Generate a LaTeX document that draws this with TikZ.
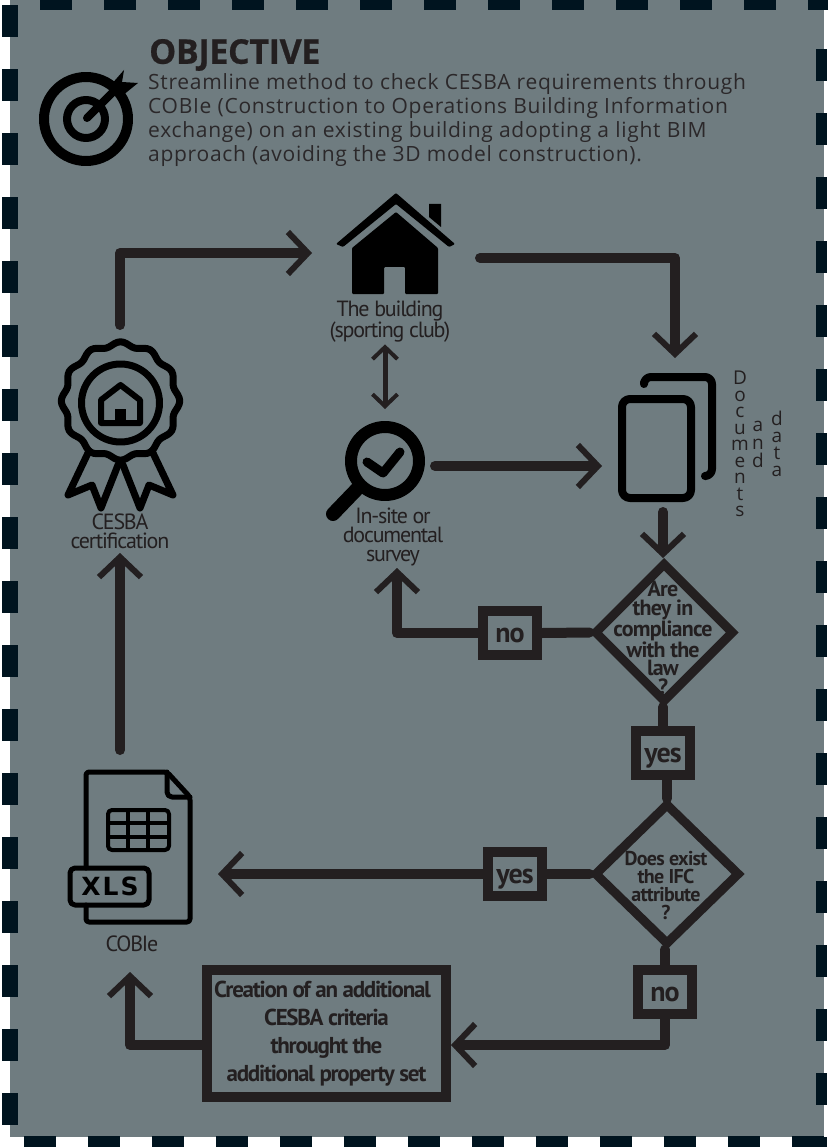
\documentclass[tikz,border=0pt]{standalone}
\usepackage{fontspec}
\usetikzlibrary{arrows.meta,shapes.geometric}
\setmainfont{Open Sans}
\newfontfamily\tightfont[LetterSpace=-3.5]{PT Sans}
\newfontfamily\tighterfont[LetterSpace=-5.5]{PT Sans}
\newfontfamily\widefont[LetterSpace=3.4]{Open Sans}
\newfontfamily\titlefont[LetterSpace=-1,BoldFeatures={FakeBold=0.6}]{Open Sans}
\newfontfamily\tagfont[LetterSpace=8]{DejaVu Sans}
\definecolor{panelgray}{HTML}{6F7C80}
\definecolor{inkdark}{HTML}{231F20}
\definecolor{dashnavy}{HTML}{00141F}
\tikzset{
  flow/.style={draw=inkdark,line width=10pt,line cap=round,line join=round},
  thinflow/.style={draw=inkdark,line width=5pt,line cap=round},
  spot/.style={inner sep=0pt,outer sep=0pt},
  icon/.style={draw=black,line join=round,line cap=round},
  caption/.style={text=inkdark,align=center,inner sep=0pt,outer sep=0pt,font=\tighterfont\fontsize{22}{18.8}\selectfont},
  answer/.style={draw=inkdark,line width=10pt,minimum width=54pt,minimum height=44pt,inner sep=0pt,text=inkdark,text height=18pt,text depth=0pt,font=\tightfont\bfseries\fontsize{28}{28}\selectfont},
  decision/.style={diamond,aspect=1,draw=inkdark,line width=9pt,inner sep=0pt},
  question/.style={text=inkdark,align=center,inner sep=0pt},
  stacked/.style={text=inkdark,align=center,inner sep=0pt},
}
\begin{document}
\begin{tikzpicture}[x=1pt,y=-1pt,>={Straight Barb[length=20pt,width=42pt,line width=6pt]}]
\useasboundingbox (0,0) rectangle (827,1147);
\fill[panelgray] (10,0) rectangle (824,1137);
\foreach \k in {0,...,17} {
  \fill[dashnavy] (2,5+64*\k) rectangle (18,37+64*\k);
  \fill[dashnavy] (816,49+64*\k) rectangle (827,81+64*\k);
}
\foreach \k in {0,...,12} {
  \fill[dashnavy] (40+64*\k,0) rectangle (72+64*\k,10);
  \fill[dashnavy] (24+64*\k,1136) rectangle (56+64*\k,1147);
}

\node[anchor=west,inner sep=0pt,text=inkdark,font=\titlefont\bfseries\fontsize{34}{34}\selectfont] (title) at (149,55) {OBJECTIVE};
\node[anchor=north west,inner sep=0pt,text=inkdark!90!panelgray,align=left,font=\widefont\fontsize{21}{24.2}\selectfont] (goal) at (148,73) {Streamline method to check CESBA requirements through\\COBIe (Construction to Operations Building Information\\exchange) on an existing building adopting a light BIM\\approach (avoiding the 3D model construction).};

\draw[icon,line width=10pt] (86,119) circle (42);
\draw[icon,line width=8pt] (86,119) circle (19);
\draw[icon,line width=8pt] (87,118) -- (116,89);
\fill[black] (110,86) -- (124,70) -- (122,82) -- (138,83) -- (122,96) -- (115,93) -- cycle;

\node[spot,minimum width=168pt,minimum height=100pt] (building) at (396,253) {};
\fill[black,rounded corners=1pt] (396,193) -- (455,244) -- (449,247) -- (396,204) -- (343,247) -- (336,244) -- cycle;
\fill[black] (429,204) -- (441,204) -- (441,227) -- (429,217) -- cycle;
\fill[black,rounded corners=1pt] (396,212) -- (438,248) -- (438,294) -- (405,294) -- (405,267) -- (384,267) -- (384,294) -- (352,294) -- (352,248) -- cycle;
\node[caption] (buildinglabel) at (390,321.5) {The building\\(sporting club)};

\node[spot,minimum width=122pt,minimum height=154pt] (docs) at (663,435) {};
\draw[icon,line width=8pt,rounded corners=8pt] (622,399) rectangle (691,498);
\draw[icon,line width=8pt,rounded corners=7pt] (644,382) -- (644,377) -- (712,377) -- (712,476) -- (706,476);
\node[stacked,font=\fontsize{19}{16.5}\selectfont] (stackdocs) at (740,444) {D\\o\\c\\u\\m\\e\\n\\t\\s};
\node[stacked,font=\fontsize{19}{18}\selectfont] (stackand) at (758,444) {a\\n\\d};
\node[stacked,font=\fontsize{19}{17}\selectfont] (stackdata) at (777,444) {d\\a\\t\\a};

\node[spot,minimum width=100pt,minimum height=114pt] (lens) at (385,466) {};
\draw[icon,line width=12pt] (385,461) circle (34);
\draw[icon,line width=14pt] (358,488) -- (333,514);
\draw[icon,line width=9pt] (367,462) -- (383,473) -- (400,452);
\node[caption,minimum height=62pt] (lenslabel) at (393,537) {In-site or\\documental\\survey};

\node[spot,minimum width=120pt,minimum height=180pt] (cert) at (120,415) {};
\draw[icon,line width=7pt] plot[smooth,samples=121,domain=0:360] ({120.5+(57+2.2*cos(12*\x))*cos(\x)},{401+(57+2.2*cos(12*\x))*sin(\x)});
\draw[icon,line width=7pt] (120.5,403) circle (39);
\draw[icon,line width=6pt] (120.5,385) -- (140,400) -- (140,423) -- (101,423) -- (101,400) -- cycle;
\fill[black] (115,409) rectangle (126,423);
\draw[icon,line width=7pt] (88,453) -- (68,495) -- (92,485) -- (101,508) -- (118,465);
\draw[icon,line width=7pt] (153,453) -- (173,495) -- (149,485) -- (140,508) -- (123,465);
\node[caption,minimum height=44pt] (certlabel) at (120,531) {CESBA\\certification};

\node[decision,minimum width=140pt,minimum height=140pt] (lawcheck) at (664,632.5) {};
\node[question,font=\tightfont\bfseries\fontsize{22}{18.4}\selectfont] (lawtext) at (663,638) {Are\\they in\\compliance\\with the\\law\\?};
\node[answer] (lawno) at (510,633) {no};
\node[answer] (lawyes) at (663,753) {yes};
\node[decision,minimum width=146pt,minimum height=142pt] (ifccheck) at (667,874) {};
\node[question,font=\tightfont\bfseries\fontsize{20}{18}\selectfont] (ifctext) at (666,885) {Does exist\\the IFC\\attribute\\?};
\node[answer] (ifcyes) at (515,874) {yes};
\node[answer] (ifcno) at (665,992) {no};
\node[draw=inkdark,line width=10pt,minimum width=239pt,minimum height=127pt,inner sep=0pt,text=inkdark,align=center,font=\tighterfont\bfseries\fontsize{23}{28}\selectfont] (criteria) at (326.5,1033.5) {Creation of an additional\hspace*{8pt}\\CESBA criteria\hspace*{8pt}\\throught the\\additional property set};

\node[spot,minimum width=196pt,minimum height=200pt] (file) at (120,850) {};
\draw[icon,line width=5pt,rounded corners=3pt] (86,868) -- (86,772) -- (167,772) -- (190,797) -- (190,922) -- (86,922) -- (86,905);
\draw[icon,line width=5pt,rounded corners=5pt] (167,772) -- (167,797) -- (190,797);
\draw[icon,line width=4pt,rounded corners=4pt] (108,810) rectangle (169,850);
\draw[icon,line width=3.5pt] (128,810) -- (128,850) (148,810) -- (148,850) (108,823) -- (169,823) (108,837) -- (169,837);
\draw[icon,line width=5pt,rounded corners=5pt] (70,868) rectangle (149,905);
\node[inner sep=0pt,text=black,font=\tagfont\bfseries\fontsize{25}{25}\selectfont] (filetag) at (110,886.5) {XLS};
\node[caption,minimum height=56pt] (filelabel) at (132,944) {COBIe};

\draw[flow,->] (cert.north) |- (building.west);
\draw[flow,->] ([yshift=-5pt]building.east) -| ([xshift=12pt]docs.north);
\draw[thinflow,<->,>={Straight Barb[length=12pt,width=25pt,line width=4pt]}] ([yshift=-2pt]buildinglabel.south -| lens.north) -- (lens.north);
\draw[flow,->] (lens.east) -- (lens.east -| docs.west);
\draw[flow,->] (docs.south) -- (lawcheck.north -| docs.south);
\draw[flow] (lawcheck.west) -- (lawno.east);
\draw[flow,->] (lawno.west) -| ([xshift=4pt]lenslabel.south);
\draw[flow] (lawcheck.south -| lawyes.north) -- (lawyes.north);
\draw[flow] (lawyes.south -| ifccheck.north) -- (ifccheck.north);
\draw[flow] (ifccheck.west) -- (ifcyes.east);
\draw[flow,->] (ifcyes.west) -- (ifcyes.west -| file.east);
\draw[flow] (ifccheck.south -| ifcno.north) -- (ifcno.north);
\draw[flow,->] (ifcno.south) |- ([yshift=-11.5pt]criteria.east);
\draw[flow,->] ([yshift=-11.5pt]criteria.west) -| ([xshift=-2pt]filelabel.south);
\draw[flow,->] (file.north) -- (certlabel.south);
\end{tikzpicture}
\end{document}
